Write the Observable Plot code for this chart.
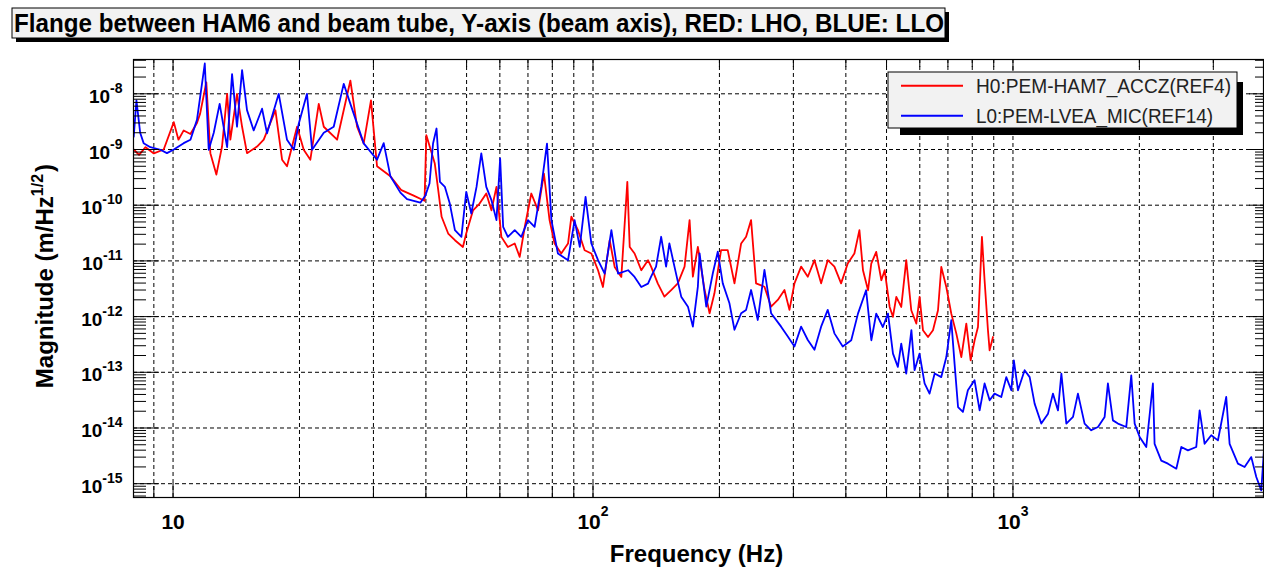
<!DOCTYPE html>
<html><head><meta charset="utf-8">
<script src="https://cdn.jsdelivr.net/npm/d3@7"></script>
<script src="https://cdn.jsdelivr.net/npm/@observablehq/plot@0.6"></script>
<style>
html,body{margin:0;padding:0;background:#fff;}
#chart svg{display:block;}
</style>
</head><body><div id="chart"></div>
<script>
const chartTitle = "Flange between HAM6 and beam tube, Y-axis (beam axis), RED: LHO, BLUE: LLO";
const seriesNames = ["H0:PEM-HAM7_ACCZ(REF4)", "L0:PEM-LVEA_MIC(REF14)"];
const seriesColors = ["#ff0000", "#0000ff"];
const xTitle = "Frequency (Hz)";
const yTitle = ["Magnitude (m/Hz", "1/2", ")"];

// [frequency Hz, magnitude m/Hz^1/2]
const redSpectrum = [
 [8.06,1.0e-9],[8.3,8.0e-10],[8.6,1.1e-9],[9.0,8.5e-10],[9.5,1.0e-9],[10.04,3.1e-9],[10.3,1.5e-9],[10.6,2.2e-9],
 [11.0,1.9e-9],[11.4,3.0e-9],[11.6,4.4e-9],[12.0,1.61e-8],[12.27,8.6e-10],[12.68,3.55e-10],[13.08,1.13e-9],[13.45,1.0e-8],
 [13.69,1.5e-9],[14.2,1.0e-8],[14.6,2.56e-9],[15.0,8.6e-10],[15.85,1.13e-9],[16.44,1.5e-9],[17.53,5.06e-9],[18.18,6.56e-10],
 [18.68,5.0e-10],[19.74,2.56e-9],[20.47,9.9e-10],[21.23,6.56e-10],[22.23,6.6e-9],[22.85,2.56e-9],[24.58,1.5e-9],[26.44,1.73e-8],
 [27.43,2.56e-9],[28.44,1.29e-9],[29.6,7.6e-9],[30.6,5.0e-10],[32.93,3.3e-10],[34.97,1.86e-10],[37.3,1.5e-10],[39.7,1.2e-10],
 [40.1,1.81e-9],[41.2,9.1e-10],[42.0,5.6e-10],[42.8,1.86e-10],[43.6,6.2e-11],[45.2,3.1e-11],[46.9,2.35e-11],[49.0,1.78e-11],
 [49.9,3.1e-11],[51.8,8.1e-11],[53.7,1.07e-10],[55.7,1.62e-10],[57.3,8.1e-11],[58.9,2.13e-10],[60.5,2.7e-11],[62.7,1.78e-11],
 [65.1,2.05e-11],[66.9,1.18e-11],[68.8,4.1e-11],[71.3,1.62e-10],[74.0,8.1e-11],[76.4,3.7e-10],[78.8,5.4e-11],[81.0,2.05e-11],
 [84.0,1.36e-11],[87.2,2.05e-11],[88.8,6.2e-11],[92.1,3.56e-11],[95.5,1.55e-11],[99.1,1.36e-11],[102.8,6.8e-12],[105.6,3.4e-12],
 [109.6,2.35e-11],[112.6,7.8e-12],[116.8,5.16e-12],[120.7,2.62e-10],[122.3,1.78e-11],[125.6,1.36e-11],[130.3,6.8e-12],[135.2,1.03e-11],
 [137.5,7.9e-12],[142.6,3.95e-12],[147.9,2.28e-12],[153.5,3.0e-12],[159.2,3.95e-12],[165.2,7.9e-12],[169.8,5.4e-11],[172.9,5.2e-12],
 [177.7,1.79e-11],[184.4,3.0e-12],[189.5,1.15e-12],[194.6,2.62e-12],[201.8,1.56e-11],[209.3,1.56e-11],[217.2,3.95e-12],[225.3,2.06e-11],
 [231.5,2.71e-11],[237.9,5.4e-11],[244.5,3.95e-12],[256.0,3.44e-12],[265.5,1.51e-12],[275.4,1.99e-12],[285.7,3.0e-12],[293.6,1.32e-12],
 [301.8,3.95e-12],[313.0,7.9e-12],[324.7,5.2e-12],[336.8,1.03e-11],[349.3,3.95e-12],[362.2,1.03e-11],[375.7,7.9e-12],[389.7,3.95e-12],
 [404.2,9.0e-12],[419.2,1.36e-11],[430.9,3.56e-11],[439.4,6.8e-12],[451.8,2.97e-12],[459.8,8.95e-12],[472.5,1.45e-11],[486.0,4.5e-12],
 [494.9,6.8e-12],[508.6,1.49e-12],[517.8,9.9e-13],[527.5,2.26e-12],[542.0,1.49e-12],[557.1,1.03e-11],[572.6,1.3e-12],[588.6,7.5e-13],
 [599.4,2.26e-12],[610.5,5.7e-13],[627.6,4.3e-13],[645.0,5.7e-13],[663.0,1.3e-12],[675.1,7.8e-12],[693.9,3.4e-12],[713.1,1.13e-12],
 [733.1,4.95e-13],[753.4,1.88e-13],[774.3,7.5e-13],[793.0,1.64e-13],[810.4,3.76e-13],[825.4,6.5e-13],[843.6,2.7e-11],[855.9,4.5e-12],
 [871.9,5.7e-13],[879.9,2.48e-13],[896.2,4.3e-13]
];
const blueSpectrum = [
 [8.06,1.7e-9],[8.18,7.6e-9],[8.35,2.0e-9],[8.51,1.3e-9],[8.83,1.1e-9],[9.33,9.9e-10],[9.67,8.6e-10],[10.04,1.0e-9],
 [10.6,1.3e-9],[11.0,1.5e-9],[11.4,3.4e-9],[11.9,3.5e-8],[12.16,9.9e-10],[12.5,2.0e-9],[12.91,6.6e-9],[13.45,1.1e-9],
 [13.82,2.26e-8],[14.2,2.56e-9],[14.6,2.67e-8],[15.0,5.1e-9],[15.56,2.2e-9],[16.29,5.4e-9],[16.74,1.95e-9],[17.85,1.0e-8],
 [18.68,1.49e-9],[19.39,9.9e-10],[19.92,2.9e-9],[20.84,1.0e-8],[21.43,9.9e-10],[22.85,2.0e-9],[24.13,2.56e-9],[25.49,1.51e-8],
 [26.44,6.6e-9],[28.44,1.29e-9],[30.6,6.56e-10],[31.74,1.3e-9],[32.93,3.3e-10],[34.78,1.68e-10],[36.07,1.28e-10],[38.8,1.11e-10],
 [39.9,1.5e-10],[40.8,2.45e-10],[41.6,1.28e-9],[42.4,2.38e-9],[43.2,2.62e-10],[44.4,2.13e-10],[45.6,1.07e-10],[46.9,3.56e-11],
 [48.6,2.7e-11],[49.9,1.74e-10],[51.3,7.1e-11],[52.8,2.13e-10],[54.2,8.5e-10],[55.7,2.13e-10],[57.3,1.23e-10],[58.9,5.4e-11],
 [60.1,6.9e-10],[61.1,4.1e-11],[62.7,2.7e-11],[65.1,3.56e-11],[67.5,2.7e-11],[70.0,5.4e-11],[72.6,4.1e-11],[75.3,2.13e-10],
 [77.7,1.28e-9],[79.6,5.4e-11],[82.5,1.36e-11],[87.2,1.03e-11],[90.4,5.4e-11],[93.0,1.78e-11],[96.0,1.41e-10],[99.1,2.05e-11],
 [102.8,1.03e-11],[106.6,5.9e-12],[110.6,3.56e-11],[114.7,5.9e-12],[121.2,6.8e-12],[125.6,5.16e-12],[130.3,3.4e-12],[135.2,3.9e-12],
 [137.5,5.2e-12],[141.3,7.9e-12],[145.3,2.71e-11],[149.3,7.9e-12],[152.0,2.06e-11],[156.3,7.9e-12],[162.2,2.28e-12],[168.3,1.51e-12],
 [172.9,6.6e-13],[177.7,3.44e-12],[179.4,1.36e-11],[186.1,1.51e-12],[192.9,6.0e-12],[198.2,1.46e-11],[203.7,3.95e-12],[211.3,1.73e-12],
 [217.2,5.8e-13],[225.3,1.15e-12],[231.5,1.32e-12],[237.9,3.0e-12],[246.8,8.7e-13],[256.0,6.9e-12],[265.5,1.15e-12],[280.5,6.6e-13],
 [291.0,4.4e-13],[301.8,2.9e-13],[313.0,6.6e-13],[324.7,3.8e-13],[336.8,2.53e-13],[349.3,6.6e-13],[362.2,1.32e-12],[375.7,5.0e-13],
 [393.3,2.9e-13],[412,3.76e-13],[427.5,1.13e-12],[447,2.97e-12],[460,3.76e-13],[472.5,1.13e-12],[490,6.5e-13],[504,1.13e-12],
 [518,2.16e-13],[532,1.25e-13],[542,3.27e-13],[557,9.5e-14],[573,5.7e-13],[583,1.09e-13],[599,2.16e-13],[616,6.3e-14],
 [633,4.14e-14],[651,9.5e-14],[675,8.2e-14],[694,1.88e-13],[713,8.6e-13],[726,1.43e-13],[740,2.38e-14],[760,1.94e-14],
 [781,4.75e-14],[810,7.2e-14],[833,2.07e-14],[856,6.3e-14],[880,3.14e-14],[904,4.14e-14],[938,3.6e-14],[964,8.2e-14],
 [991,4.75e-14],[1005,1.64e-13],[1028,4.75e-14],[1066,1.09e-13],[1096,8.2e-14],[1126,2.74e-14],[1168,1.2e-14],[1212,1.81e-14],
 [1245,4.14e-14],[1280,2.07e-14],[1304,9.5e-14],[1340,1.2e-14],[1390,1.58e-14],[1428,4.14e-14],[1481,1.2e-14],[1536,9.1e-15],
 [1594,1.04e-14],[1653,1.58e-14],[1683,6.3e-14],[1730,1.37e-14],[1778,1.2e-14],[1861,1.04e-14],[1913,8.8e-14],[1949,1.2e-14],
 [2003,6.9e-15],[2077,4.56e-15],[2154,6.3e-14],[2174,5.2e-15],[2255,2.6e-15],[2339,2.29e-15],[2449,1.86e-15],[2517,4.56e-15],
 [2610,3.97e-15],[2732,4.56e-15],[2783,2.07e-14],[2860,5.2e-15],[2966,7.4e-15],[3077,6.0e-15],[3220,3.6e-14],[3280,5.2e-15],
 [3433,2.29e-15],[3561,1.99e-15],[3694,3.0e-15],[3797,1.32e-15],[3902,7.6e-16],[3960,3.97e-15]
];

const xDomain = [8.05, 3950];
const yDomain = [5.65e-16, 4.13e-8];
const xTickValues = [10, 100, 1000];
const xTickLabels = ["10", "10^2", "10^3"];
const yTickValues = [1e-15, 1e-14, 1e-13, 1e-12, 1e-11, 1e-10, 1e-9, 1e-8];
const yTickLabels = ["10^-15", "10^-14", "10^-13", "10^-12", "10^-11", "10^-10", "10^-9", "10^-8"];
const xGridValues = [9, 10, 20, 30, 40, 50, 60, 70, 80, 90, 100, 200, 300, 400, 500, 600, 700, 800, 900, 1000, 2000, 3000];

const xLabelMap = new Map(xTickValues.map((v, i) => [v, xTickLabels[i]]));
const yLabelMap = new Map(yTickValues.map((v, i) => [v, yTickLabels[i]]));
const yAllTicks = d3.scaleLog().domain(yDomain).ticks();
const yMinor = yAllTicks.filter(v => !yTickValues.some(t => Math.abs(v / t - 1) < 1e-6));
const xMajor = xTickValues;
const xMinor = xGridValues.filter(v => !xTickValues.includes(v));

const toRows = (arr) => arr.map(([f, v]) => ({f, v}));
const gridStyle = {stroke: "black", strokeOpacity: 1, strokeWidth: 1, strokeDasharray: "4,3"};
const blank = () => "";
const FONT = "'Liberation Sans', Arial, Helvetica, sans-serif";

const plot = Plot.plot({
  width: 1264, height: 571,
  marginLeft: 133, marginRight: 1, marginTop: 59, marginBottom: 74,
  style: {fontFamily: FONT, background: "white", color: "black"},
  x: {type: "log", domain: xDomain, label: null},
  y: {type: "log", domain: yDomain, label: null},
  marks: [
    Plot.gridX(xGridValues, gridStyle),
    Plot.gridY(yTickValues, gridStyle),
    Plot.line(toRows(redSpectrum), {x: "f", y: "v", stroke: seriesColors[0], strokeWidth: 1.8, clip: true}),
    Plot.line(toRows(blueSpectrum), {x: "f", y: "v", stroke: seriesColors[1], strokeWidth: 1.8, clip: true}),
    Plot.axisY(yTickValues, {anchor: "left", tickSize: 26, dx: 26, tickFormat: blank, label: null}),
    Plot.axisY(yMinor, {anchor: "left", tickSize: 13, dx: 13, tickFormat: blank, label: null}),
    Plot.axisY(yTickValues, {anchor: "right", tickSize: 15, dx: -15, tickFormat: blank, label: null}),
    Plot.axisY(yMinor, {anchor: "right", tickSize: 9, dx: -9, tickFormat: blank, label: null}),
    Plot.axisX(xMajor, {anchor: "bottom", tickSize: 14, dy: -14, tickFormat: blank, label: null}),
    Plot.axisX(xMinor, {anchor: "bottom", tickSize: 11, dy: -11, tickFormat: blank, label: null}),
    Plot.axisX(xMajor, {anchor: "top", tickSize: 11, dy: 11, tickFormat: blank, label: null}),
    Plot.axisX(xMinor, {anchor: "top", tickSize: 7, dy: 7, tickFormat: blank, label: null}),
    Plot.axisY(yTickValues, {anchor: "left", tickSize: 0, tickPadding: 11, dy: 3, tickFormat: d => yLabelMap.get(d), fontSize: 19, fontWeight: "bold", label: null}),
    Plot.axisX(xTickValues, {anchor: "bottom", tickSize: 0, tickPadding: 17, tickFormat: d => xLabelMap.get(d), fontSize: 21, fontWeight: "bold", label: null}),
    Plot.frame({stroke: "black", strokeWidth: 1.2})
  ]
});
document.getElementById("chart").appendChild(plot);

const svg = d3.select(plot);
// superscripts in tick labels
function superscript(sel, supSize, supDy) {
  sel.each(function() {
    const t = d3.select(this);
    const s = t.text();
    if (!s.includes("^")) return;
    const [base, exp] = s.split("^");
    t.text(null);
    t.append("tspan").text(base);
    t.append("tspan").attr("font-size", supSize).attr("dy", supDy).text(exp);
  });
}
superscript(svg.selectAll('g[aria-label="y-axis tick label"] text'), 14, -10);
superscript(svg.selectAll('g[aria-label="x-axis tick label"] text'), 14, -13);

const deco = svg.append("g").attr("font-family", FONT).attr("text-anchor", "start");

// title box
deco.append("rect").attr("x", 16).attr("y", 12).attr("width", 933).attr("height", 30).attr("fill", "black");
deco.append("rect").attr("x", 12).attr("y", 8).attr("width", 933).attr("height", 30).attr("fill", "#f2f2f2").attr("stroke", "black").attr("stroke-width", 1);
deco.append("text").attr("x", 14).attr("y", 32).attr("text-anchor", "start").attr("font-size", 26).attr("font-weight", "bold")
  .attr("textLength", 930).attr("lengthAdjust", "spacingAndGlyphs").text(chartTitle);

// legend
deco.append("rect").attr("x", 900).attr("y", 82).attr("width", 343).attr("height", 53).attr("fill", "black");
deco.append("rect").attr("x", 888).attr("y", 72).attr("width", 349).attr("height", 56).attr("fill", "#f2f2f2").attr("stroke", "black").attr("stroke-width", 1);
const legY = [85.7, 115.7];
const legLen = [255, 237];
seriesNames.forEach((name, i) => {
  deco.append("line").attr("x1", 901).attr("x2", 963).attr("y1", legY[i]).attr("y2", legY[i])
    .attr("stroke", seriesColors[i]).attr("stroke-width", 2);
  deco.append("text").attr("x", 976).attr("y", legY[i] + 7.2).attr("text-anchor", "start").attr("font-size", 20).attr("fill", "#222")
    .attr("textLength", legLen[i]).attr("lengthAdjust", "spacingAndGlyphs").text(name);
});

// axis titles
deco.append("text").attr("x", 696.5).attr("y", 562).attr("text-anchor", "middle")
  .attr("font-size", 24).attr("font-weight", "bold").text(xTitle);
const yt = deco.append("text").attr("transform", "translate(53,276) rotate(-90)").attr("text-anchor", "middle")
  .attr("font-size", 24).attr("font-weight", "bold");
yt.append("tspan").text(yTitle[0]);
yt.append("tspan").attr("font-size", 16).attr("dy", -10).text(yTitle[1]);
yt.append("tspan").attr("dy", 10).attr("dx", 2).text(yTitle[2]);
</script>
</body></html>
